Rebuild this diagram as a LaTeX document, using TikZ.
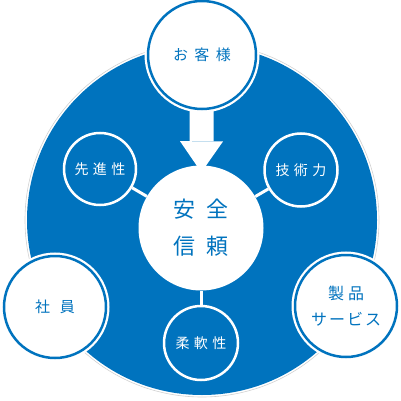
\documentclass[tikz,border=0pt]{standalone}
\usepackage{fontspec}
\newfontfamily\jp{Noto Sans CJK JP}
\usetikzlibrary{arrows.meta}
\definecolor{mblue}{RGB}{0,115,190}
\pgfdeclarelayer{bglayer}
\pgfdeclarelayer{linklayer}
\pgfsetlayers{bglayer,linklayer,main}
\begin{document}
\begin{tikzpicture}[x=1pt,y=-1pt,
  outer/.style={circle, inner sep=0pt, fill=white, draw=mblue, line width=2.5pt,
    preaction={draw=white, line width=7pt}, text=mblue,
    font=\jp\fontsize{15}{26}\selectfont, align=center},
  inner/.style={circle, inner sep=0pt, fill=mblue, draw=white, line width=2.5pt,
    text=white, font=\jp\fontsize{14}{18}\selectfont, align=center},
  corestyle/.style={circle, inner sep=0pt, fill=white, text=mblue,
    font=\jp\fontsize{22}{37}\selectfont, align=center},
  link/.style={draw=white, line width=3pt},
  bigarrow/.style={draw=white, line width=24pt,
    -{Triangle[width=43pt,length=31pt,line width=0pt]},
    shorten >=-7pt, shorten <=-6pt},
]
\useasboundingbox (0,0) rectangle (400,401);
% nodes
\node[corestyle, minimum size=125pt] (core) at (201,228) {安\hspace{11pt}全\\信\hspace{11pt}頼};
\node[outer, minimum size=108pt] (kyaku) at (202,55) {お\hspace{6.5pt}客\hspace{6.5pt}様};
\node[inner, minimum size=72pt] (sen) at (100,169) {先\hspace{4.5pt}進\hspace{4.5pt}性};
\node[inner, minimum size=73pt] (gij) at (301,170) {技\hspace{4.5pt}術\hspace{4.5pt}力};
\node[inner, minimum size=74pt] (juu) at (201,343) {柔\hspace{4.5pt}軟\hspace{4.5pt}性};
\node[outer, minimum size=102pt] (shain) at (55,307) {社\hspace{10pt}員};
\node[outer, minimum size=102pt, font=\jp\fontsize{16}{26}\selectfont] (seihin) at (346,306) {製\hspace{4pt}品\\サ\hspace{2pt}ー\hspace{2pt}ビ\hspace{2pt}ス};
% background disc
\begin{pgfonlayer}{bglayer}
\node[circle, inner sep=0pt, minimum size=354pt, draw=black!18, line width=0.6pt] (ring) at (202,220) {};
\node[circle, inner sep=0pt, minimum size=350pt, fill=mblue] (bg) at (202,220) {};
\end{pgfonlayer}
% connectors
\begin{pgfonlayer}{linklayer}
\draw[link] (sen) -- (core);
\draw[link] (gij) -- (core);
\draw[link] (core) -- (juu);
\draw[bigarrow] (kyaku) -- (core);
\end{pgfonlayer}
\end{tikzpicture}
\end{document}
